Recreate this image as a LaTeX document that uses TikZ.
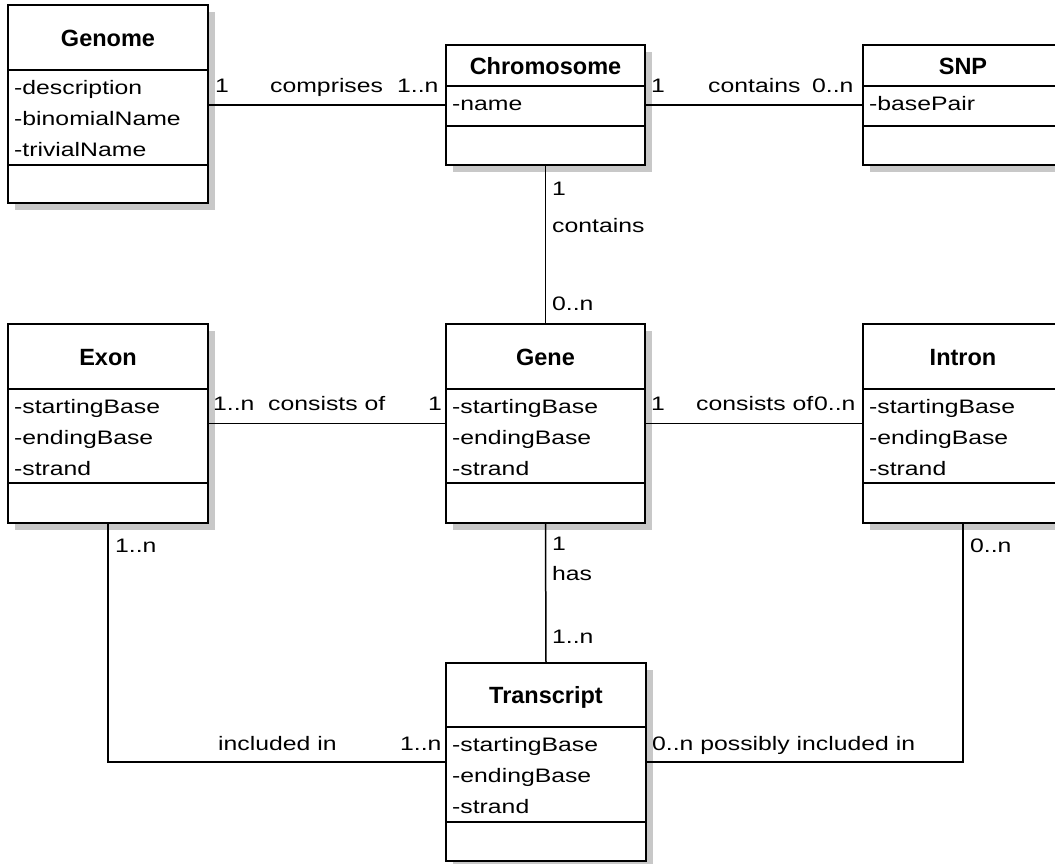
\documentclass[tikz,border=0pt]{standalone}
\usepackage{fontspec}
\setmainfont{Liberation Sans}
\newfontfamily\attrfont[FakeStretch=1.27]{Liberation Sans}
\usetikzlibrary{shadows}
\definecolor{shadowgray}{RGB}{200,200,200}
\tikzset{
  classbox/.style={draw=black, line width=1.5pt, fill=white, inner sep=0pt, outer sep=0pt,
    drop shadow={shadow xshift=6.5pt, shadow yshift=-6.5pt, fill=shadowgray, opacity=1}},
  sepline/.style={draw=black, line width=1.5pt},
  conn/.style={draw=black, line width=1.5pt},
  title/.style={anchor=base, inner sep=0pt, font=\fontsize{23.5}{25}\selectfont\bfseries},
  attr/.style={anchor=base west, inner sep=0pt, font=\attrfont\fontsize{19.5}{22}\selectfont},
  lbl/.style={attr}
}
\begin{document}
\begin{tikzpicture}[x=1pt,y=-1pt]
\useasboundingbox (0,0) rectangle (1055,863);
\clip (0,0) rectangle (1055,863);
\fill[white] (0,0) rectangle (1055,863);

% ---------- class boxes ----------
\node[classbox, minimum width=200pt, minimum height=198pt] (genome) at (108,104) {};
\node[classbox, minimum width=199pt, minimum height=120pt] (chrom) at (545.5,105) {};
\node[classbox, minimum width=200pt, minimum height=120pt] (snp) at (963,105) {};
\node[classbox, minimum width=200pt, minimum height=199pt] (exon) at (108,423.5) {};
\node[classbox, minimum width=199pt, minimum height=199pt] (gene) at (545.5,423.5) {};
\node[classbox, minimum width=200pt, minimum height=199pt] (intron) at (963,423.5) {};
\node[classbox, minimum width=200pt, minimum height=198pt] (trans) at (546,762) {};

% ---------- compartment lines ----------
\draw[sepline] (genome.west |- 0,70) -- (genome.east |- 0,70);
\draw[sepline] (genome.west |- 0,165) -- (genome.east |- 0,165);
\draw[sepline] (chrom.west |- 0,86) -- (chrom.east |- 0,86);
\draw[sepline] (chrom.west |- 0,126) -- (chrom.east |- 0,126);
\draw[sepline] (snp.west |- 0,86) -- (snp.east |- 0,86);
\draw[sepline] (snp.west |- 0,126) -- (snp.east |- 0,126);
\foreach \b in {exon,gene,intron}{
  \draw[sepline] (\b.west |- 0,389) -- (\b.east |- 0,389);
  \draw[sepline] (\b.west |- 0,483) -- (\b.east |- 0,483);
}
\draw[sepline] (trans.west |- 0,727) -- (trans.east |- 0,727);
\draw[sepline] (trans.west |- 0,822) -- (trans.east |- 0,822);

% ---------- titles ----------
\node[title] (tgenome) at (108,46) {Genome};
\node[title] (tchrom) at (545.5,74) {Chromosome};
\node[title] (tsnp) at (963,74) {SNP};
\node[title] (texon) at (108,365) {Exon};
\node[title] (tgene) at (545.5,365) {Gene};
\node[title] (tintron) at (963,365) {Intron};
\node[title] (ttrans) at (546,703.5) {Transcript};

% ---------- attributes ----------
\node[attr] (ag1) at (14,94) {-description};
\node[attr] (ag2) at (14,125) {-binomialName};
\node[attr] (ag3) at (14,156) {-trivialName};
\node[attr] (ac1) at (452,110) {-name};
\node[attr] (as1) at (869,110) {-basePair};
\node[attr] (ae1) at (14,413) {-startingBase};
\node[attr] (ae2) at (14,444) {-endingBase};
\node[attr] (ae3) at (14,475) {-strand};
\node[attr] (an1) at (452,413) {-startingBase};
\node[attr] (an2) at (452,444) {-endingBase};
\node[attr] (an3) at (452,475) {-strand};
\node[attr] (ai1) at (869,413) {-startingBase};
\node[attr] (ai2) at (869,444) {-endingBase};
\node[attr] (ai3) at (869,475) {-strand};
\node[attr] (at1) at (452,751) {-startingBase};
\node[attr] (at2) at (452,782) {-endingBase};
\node[attr] (at3) at (452,813) {-strand};

% ---------- connectors ----------
\draw[conn] (genome.east |- chrom.west) -- (chrom.west);
\draw[conn] (chrom.east) -- (snp.west);
\draw[conn] (chrom.south) -- (gene.north);
\draw[conn] (exon.east) -- (gene.west);
\draw[conn] (gene.east) -- (intron.west);
\draw[conn] (gene.south) -- (trans.north);
\draw[conn] (exon.south) |- (trans.west);
\draw[conn] (intron.south) |- (trans.east);

% ---------- connector labels ----------
\node[lbl] (l1) at (215,92) {1};
\node[lbl] (l2) at (270,92) {comprises};
\node[lbl] (l3) at (397,92) {1..n};
\node[lbl] (l4) at (651,92) {1};
\node[lbl] (l5) at (708,92) {contains};
\node[lbl] (l6) at (812,92) {0..n};
\node[lbl] (l7) at (552,195) {1};
\node[lbl] (l8) at (552,232) {contains};
\node[lbl] (l9) at (552,310) {0..n};
\node[lbl] (l10) at (213,410) {1..n};
\node[lbl] (l11) at (268,410) {consists of};
\node[lbl] (l12) at (428,410) {1};
\node[lbl] (l13) at (651,410) {1};
\node[lbl] (l14) at (696,410) {consists of};
\node[lbl] (l15) at (814,410) {0..n};
\node[lbl] (l16) at (552,550) {1};
\node[lbl] (l17) at (552,580) {has};
\node[lbl] (l18) at (552,643) {1..n};
\node[lbl] (l19) at (115,552) {1..n};
\node[lbl] (l20) at (970,552) {0..n};
\node[lbl] (l21) at (218,750) {included in};
\node[lbl] (l22) at (400,750) {1..n};
\node[lbl] (l23) at (652,750) {0..n possibly included in};
\end{tikzpicture}
\end{document}
